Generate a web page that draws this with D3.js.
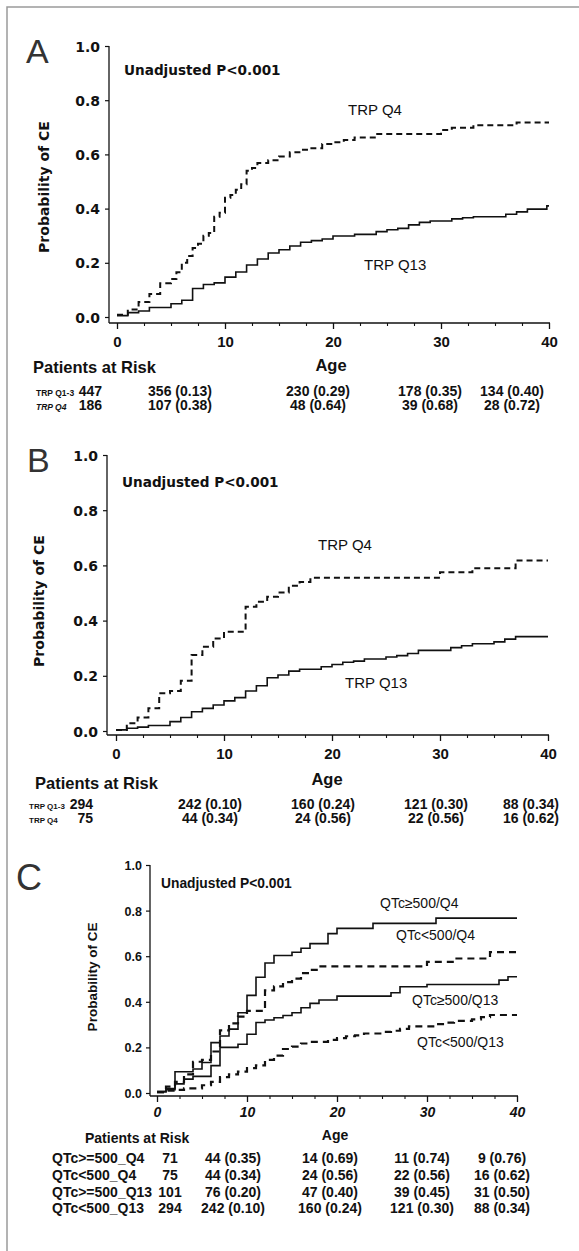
<!DOCTYPE html>
<html>
<head>
<meta charset="utf-8">
<script src="https://cdn.jsdelivr.net/npm/d3@7"></script>
<style>
  body { margin: 0; background: #fff; }
  svg { display: block; }
</style>
</head>
<body>
<div id="chart"></div>
<script>
// Axis ticks
const ageTicks = [0, 10, 20, 30, 40];
const ageMinor = [2.5, 5, 7.5, 12.5, 15, 17.5, 22.5, 25, 27.5, 32.5, 35, 37.5];
const probTicks = [0, 0.2, 0.4, 0.6, 0.8, 1.0];

// Panel A curves, [age, probability of CE]
const aQ13 = [[0, 0.005], [1, 0.016], [2, 0.022], [3, 0.035], [5, 0.049], [6, 0.062], [7, 0.105],
  [8, 0.12], [9, 0.126], [10, 0.147], [11, 0.166], [12, 0.192], [13, 0.214], [14, 0.236],
  [15, 0.248], [16, 0.262], [17, 0.276], [18, 0.282], [19, 0.288], [20, 0.299], [22, 0.305],
  [24, 0.315], [25, 0.322], [26, 0.327], [27, 0.34], [28, 0.349], [29, 0.354], [31, 0.362],
  [32, 0.366], [33, 0.37], [36, 0.379], [37, 0.388], [38, 0.398], [39.8, 0.41]];
const aQ4 = [[0, 0.008], [1, 0.028], [2, 0.055], [3, 0.085], [4, 0.125], [5, 0.14], [5.5, 0.165],
  [6, 0.2], [6.5, 0.225], [7, 0.255], [7.5, 0.27], [8, 0.3], [8.5, 0.31], [9, 0.37], [9.5, 0.385],
  [10, 0.44], [10.5, 0.45], [11, 0.47], [11.5, 0.49], [12, 0.54], [12.5, 0.55], [13, 0.568],
  [14, 0.578], [15, 0.592], [16, 0.608], [17, 0.617], [18, 0.623], [19, 0.638], [20, 0.645],
  [21, 0.653], [22, 0.662], [24, 0.675], [30, 0.69], [31, 0.698], [33, 0.708], [37, 0.718]];

// Panel B curves
const bQ13 = [[0, 0.004], [1, 0.01], [2, 0.014], [3, 0.02], [5, 0.034], [6, 0.049], [7, 0.07],
  [8, 0.082], [9, 0.094], [10, 0.109], [11, 0.121], [12, 0.145], [13, 0.164], [14, 0.193],
  [15, 0.203], [16, 0.217], [17, 0.224], [19, 0.233], [20, 0.241], [21, 0.249], [22, 0.253],
  [23, 0.261], [25, 0.268], [26, 0.273], [27, 0.281], [28, 0.292], [31, 0.302], [32, 0.309],
  [33, 0.316], [35, 0.323], [36, 0.333], [37, 0.342]];
const bQ4 = [[0, 0.004], [1, 0.028], [2, 0.049], [3, 0.082], [4, 0.137], [5, 0.145], [6, 0.182],
  [7, 0.275], [8, 0.305], [9, 0.335], [10, 0.36], [12, 0.45], [13, 0.468], [14, 0.486],
  [15, 0.502], [16, 0.526], [17, 0.54], [18, 0.555], [30, 0.575], [33, 0.59], [37, 0.618]];

// Panel C curves (QTc<500 groups are the panel B patients)
const cHighQ4 = [[0, 0.006], [1, 0.02], [2, 0.093], [4, 0.105], [5, 0.134], [6, 0.221], [7, 0.25],
  [8, 0.28], [9, 0.352], [10, 0.428], [11, 0.508], [12, 0.57], [13, 0.603], [15, 0.617],
  [16, 0.635], [17, 0.655], [19, 0.699], [20, 0.722], [24, 0.744], [31, 0.767]];
const cHighQ13 = [[0, 0.006], [1, 0.015], [2, 0.04], [3, 0.061], [4, 0.073], [6, 0.12], [7, 0.2],
  [9, 0.214], [10, 0.258], [11, 0.309], [12, 0.32], [13, 0.33], [14, 0.34], [15, 0.352],
  [16, 0.374], [17, 0.393], [18, 0.408], [20, 0.425], [26, 0.44], [27, 0.466], [30, 0.476],
  [38, 0.495], [39, 0.51]];
const cLowQ4 = bQ4;
const cLowQ13 = bQ13;

// Patients at risk tables
const aRiskLabels = ["TRP Q1-3", "TRP Q4"];
const aRiskQ13 = ["447", "356 (0.13)", "230 (0.29)", "178 (0.35)", "134 (0.40)"];
const aRiskQ4 = ["186", "107 (0.38)", "48 (0.64)", "39 (0.68)", "28 (0.72)"];
const bRiskLabels = ["TRP Q1-3", "TRP Q4"];
const bRiskQ13 = ["294", "242 (0.10)", "160 (0.24)", "121 (0.30)", "88 (0.34)"];
const bRiskQ4 = ["75", "44 (0.34)", "24 (0.56)", "22 (0.56)", "16 (0.62)"];
const cRiskLabels = ["QTc>=500_Q4", "QTc<500_Q4", "QTc>=500_Q13", "QTc<500_Q13"];
const cRiskHighQ4 = ["71", "44 (0.35)", "14 (0.69)", "11 (0.74)", "9 (0.76)"];
const cRiskLowQ4 = ["75", "44 (0.34)", "24 (0.56)", "22 (0.56)", "16 (0.62)"];
const cRiskHighQ13 = ["101", "76 (0.20)", "47 (0.40)", "39 (0.45)", "31 (0.50)"];
const cRiskLowQ13 = ["294", "242 (0.10)", "160 (0.24)", "121 (0.30)", "88 (0.34)"];

const W = 579, H = 1251;
const ink = "#111";
const DV = "DejaVu Sans, Verdana, sans-serif";
const LS = "Liberation Sans, Arial, Helvetica, sans-serif";

const svg = d3.select("#chart").append("svg")
  .attr("width", W)
  .attr("height", H);

// figure frame (only top and left edge show)
svg.append("path")
  .attr("d", `M7,${H} L7,7 L${W},7`)
  .attr("fill", "none")
  .attr("stroke", "#9a9a9a")
  .attr("stroke-width", 1.5);

const addText = (g, txt, x, y, font, size, opts = {}) => {
  return g.append("text")
    .attr("x", x)
    .attr("y", y)
    .attr("font-family", font)
    .attr("font-size", size)
    .attr("font-weight", opts.weight || "normal")
    .attr("font-style", opts.style || "normal")
    .attr("text-anchor", opts.anchor || "start")
    .attr("fill", opts.fill || ink)
    .text(txt);
};

const drawPanel = p => {
  const g = svg.append("g");
  const x = d3.scaleLinear().domain([0, 40]).range(p.xRange);
  const y = d3.scaleLinear().domain([0, 1]).range(p.yRange);

  // axis lines
  g.append("line")
    .attr("x1", p.axisX).attr("x2", p.axisX)
    .attr("y1", y(1)).attr("y2", p.axisY)
    .attr("stroke", ink).attr("stroke-width", 1.3);
  g.append("line")
    .attr("x1", p.axisX).attr("x2", x(40) + 1)
    .attr("y1", p.axisY).attr("y2", p.axisY)
    .attr("stroke", ink).attr("stroke-width", 1.3);

  // y ticks
  const yAx = g.append("g")
    .attr("transform", `translate(${p.axisX},0)`)
    .call(d3.axisLeft(y).tickValues(probTicks).tickSize(4).tickFormat(d3.format(".1f")));
  yAx.select(".domain").remove();
  yAx.selectAll("line").attr("stroke", ink).attr("stroke-width", 1.2);
  yAx.selectAll("text")
    .attr("x", p.yLabelRight - p.axisX)
    .attr("dy", "0.36em")
    .attr("fill", ink)
    .attr("font-family", p.yTickFont)
    .attr("font-size", p.yTickSize)
    .attr("font-weight", "bold");

  // x ticks, major and minor
  const xAx = g.append("g")
    .attr("transform", `translate(0,${p.axisY})`)
    .call(d3.axisBottom(x).tickValues(ageTicks).tickSize(6).tickFormat(d3.format("d")));
  xAx.select(".domain").remove();
  xAx.selectAll("line").attr("stroke", ink).attr("stroke-width", 1.3);
  xAx.selectAll("text")
    .attr("y", p.xLabelBase - p.axisY)
    .attr("dy", 0)
    .attr("fill", ink)
    .attr("font-family", LS)
    .attr("font-size", p.xTickSize)
    .attr("font-weight", "bold")
    .attr("font-style", p.xTickStyle);
  const xMinor = g.append("g")
    .attr("transform", `translate(0,${p.axisY})`)
    .call(d3.axisBottom(x).tickValues(ageMinor).tickSize(3).tickFormat(""));
  xMinor.select(".domain").remove();
  xMinor.selectAll("line").attr("stroke", ink).attr("stroke-width", 1.1);

  // step curves
  const line = d3.line()
    .x(d => x(d[0]))
    .y(d => y(d[1]))
    .curve(d3.curveStepAfter);
  p.curves.forEach(c => {
    const pts = c.data.concat([[40, c.data[c.data.length - 1][1]]]);
    g.append("path")
      .datum(pts)
      .attr("d", line)
      .attr("fill", "none")
      .attr("stroke", ink)
      .attr("stroke-width", c.width)
      .attr("stroke-dasharray", c.dash || null);
  });

  // panel letter, p-value, titles
  addText(g, p.letter, p.letterPos[0], p.letterPos[1], LS, p.letterSize, { fill: "#333" });
  addText(g, "Unadjusted P<0.001", p.pPos[0], p.pPos[1], p.pFont, p.pSize, { weight: "bold" });
  addText(g, "Probability of CE", 0, 0, p.titleFont, p.titleSize, { weight: "bold", anchor: "middle" })
    .attr("transform", `translate(${p.titlePos[0]},${p.titlePos[1]}) rotate(-90)`);
  p.curveLabels.forEach(l => addText(g, l.text, l.x, l.y, LS, p.curveLabelSize));

  // patients at risk table
  addText(g, "Patients at Risk", p.parPos[0], p.parPos[1], p.parFont, p.parSize, { weight: "bold" });
  addText(g, "Age", p.agePos[0], p.agePos[1], p.parFont, p.parSize, { weight: "bold", anchor: "middle" });
  p.rows.forEach((r, i) => {
    const ry = p.rowY[i];
    addText(g, r.label, p.rowLabelX, ry, LS, p.rowLabelSize,
      { weight: "bold", style: r.italic ? "italic" : "normal" });
    r.values.forEach((v, j) => {
      addText(g, v, p.cols[j], ry, LS, p.rowSize, { weight: "bold", anchor: j === 0 ? p.firstAnchor : "middle" });
    });
  });
};

// Panel A
drawPanel({
  xRange: [117, 549], yRange: [317, 46], axisX: 109, axisY: 323,
  yLabelRight: 100, yTickFont: DV, yTickSize: 14,
  xLabelBase: 347, xTickSize: 15, xTickStyle: "normal",
  curves: [
    { data: aQ4, width: 2, dash: "6,4" },
    { data: aQ13, width: 1.6 }
  ],
  letter: "A", letterPos: [26, 63], letterSize: 34,
  pPos: [124, 75], pFont: DV, pSize: 13.6,
  titlePos: [49, 187], titleFont: DV, titleSize: 14,
  curveLabels: [{ text: "TRP Q4", x: 348, y: 115 }, { text: "TRP Q13", x: 364, y: 270 }],
  curveLabelSize: 15,
  parPos: [33, 373], agePos: [331, 371], parFont: LS, parSize: 16.5,
  rowY: [396, 410], rowLabelX: 36, rowLabelSize: 8.5, rowSize: 14,
  firstAnchor: "end", cols: [102, 180, 318, 430, 512],
  rows: [
    { label: aRiskLabels[0], values: aRiskQ13 },
    { label: aRiskLabels[1], values: aRiskQ4, italic: true }
  ]
});

// Panel B
drawPanel({
  xRange: [116, 548], yRange: [731, 455], axisX: 107, axisY: 735,
  yLabelRight: 98, yTickFont: DV, yTickSize: 14,
  xLabelBase: 759, xTickSize: 15, xTickStyle: "normal",
  curves: [
    { data: bQ4, width: 2, dash: "6,4" },
    { data: bQ13, width: 1.6 }
  ],
  letter: "B", letterPos: [27, 472], letterSize: 34,
  pPos: [122, 487], pFont: DV, pSize: 13.6,
  titlePos: [44, 601], titleFont: DV, titleSize: 14,
  curveLabels: [{ text: "TRP Q4", x: 318, y: 550 }, { text: "TRP Q13", x: 345, y: 688 }],
  curveLabelSize: 15,
  parPos: [35, 789], agePos: [327, 785], parFont: LS, parSize: 16.5,
  rowY: [809, 823], rowLabelX: 29, rowLabelSize: 8, rowSize: 14,
  firstAnchor: "end", cols: [93, 210, 323, 436, 531],
  rows: [
    { label: bRiskLabels[0], values: bRiskQ13 },
    { label: bRiskLabels[1], values: bRiskQ4 }
  ]
});

// Panel C
drawPanel({
  xRange: [157, 517], yRange: [1093, 865], axisX: 150, axisY: 1096,
  yLabelRight: 142, yTickFont: LS, yTickSize: 12.5,
  xLabelBase: 1117, xTickSize: 14, xTickStyle: "italic",
  curves: [
    { data: cHighQ4, width: 1.6 },
    { data: cLowQ4, width: 2.2, dash: "7,5" },
    { data: cHighQ13, width: 1.6 },
    { data: cLowQ13, width: 2.2, dash: "7,5" }
  ],
  letter: "C", letterPos: [16, 890], letterSize: 36,
  pPos: [161, 888], pFont: LS, pSize: 13.8,
  titlePos: [97, 977], titleFont: LS, titleSize: 13.5,
  curveLabels: [
    { text: "QTc≥500/Q4", x: 380, y: 908 },
    { text: "QTc<500/Q4", x: 396, y: 940 },
    { text: "QTc≥500/Q13", x: 412, y: 1005 },
    { text: "QTc<500/Q13", x: 417, y: 1047 }
  ],
  curveLabelSize: 14,
  parPos: [85, 1143], agePos: [335, 1140], parFont: LS, parSize: 14,
  rowY: [1163, 1180, 1196.5, 1213], rowLabelX: 52, rowLabelSize: 14, rowSize: 14,
  firstAnchor: "middle", cols: [170, 233, 330, 422, 502],
  rows: [
    { label: cRiskLabels[0], values: cRiskHighQ4 },
    { label: cRiskLabels[1], values: cRiskLowQ4 },
    { label: cRiskLabels[2], values: cRiskHighQ13 },
    { label: cRiskLabels[3], values: cRiskLowQ13 }
  ]
});
</script>
</body>
</html>
